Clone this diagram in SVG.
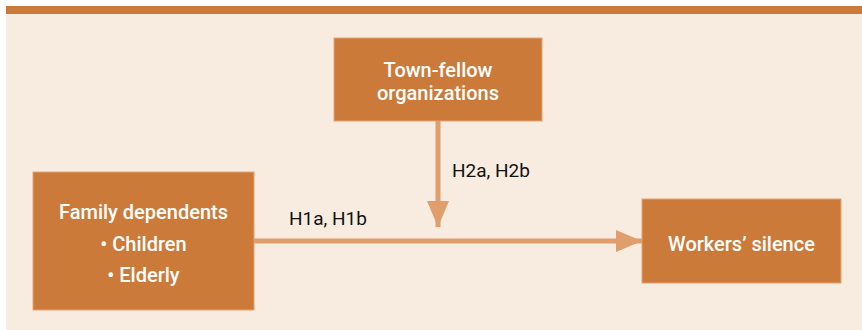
<svg xmlns="http://www.w3.org/2000/svg" width="862" height="330" viewBox="0 0 862 330">
<defs>
<style>
.box{fill:#CC7A3A;stroke:#E2A474;stroke-width:1}
.nt{font-family:Roboto,"Liberation Sans",sans-serif;font-size:20px;font-weight:500;fill:#FFFFFF;text-anchor:middle}
.lbl{font-family:Roboto,"Liberation Sans",sans-serif;font-size:19px;fill:#111111}
.con{stroke:#E09E6C;stroke-width:5;fill:none}
</style>
<marker id="ah" markerUnits="userSpaceOnUse" markerWidth="26" markerHeight="22" refX="26" refY="11" orient="auto">
<path d="M0,0 L26,11 L0,22 Z" fill="#E09E6C"/>
</marker>
</defs>
<rect x="0" y="0" width="862" height="330" fill="#FFFFFF"/>
<rect x="6" y="14" width="856" height="316" fill="#F8ECE1"/>
<rect x="6" y="6" width="856" height="8" fill="#CC7A3A"/>
<g id="connectors">
<line class="con" x1="438" y1="121" x2="438" y2="227" marker-end="url(#ah)"/>
<line class="con" x1="254" y1="241" x2="642" y2="241" marker-end="url(#ah)"/>
<text class="lbl" x="452" y="177">H2a, H2b</text>
<text class="lbl" x="289" y="225">H1a, H1b</text>
</g>
<g id="town-fellow">
<rect class="box" x="334" y="38" width="208" height="83"/>
<text class="nt" x="438" y="77">Town-fellow</text>
<text class="nt" x="438" y="100">organizations</text>
</g>
<g id="family-dependents">
<rect class="box" x="33" y="172" width="221" height="138"/>
<text class="nt" x="143.5" y="219">Family dependents</text>
<text class="nt" x="143.5" y="251">• Children</text>
<text class="nt" x="143.5" y="282">• Elderly</text>
</g>
<g id="workers-silence">
<rect class="box" x="642" y="199" width="199" height="84"/>
<text class="nt" x="741.5" y="251">Workers’ silence</text>
</g>
</svg>
